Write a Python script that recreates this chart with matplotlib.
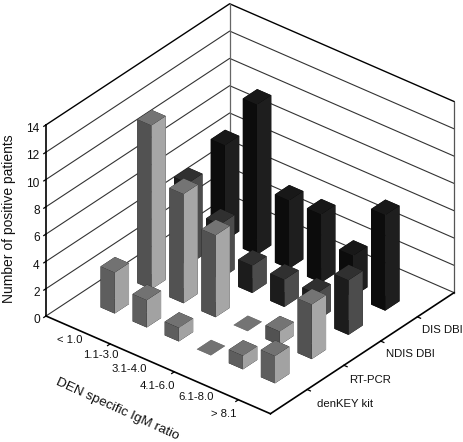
import matplotlib
matplotlib.use('Agg')
import matplotlib.pyplot as plt
from mpl_toolkits.mplot3d import proj3d

plt.rcParams['font.family'] = ['Liberation Sans', 'DejaVu Sans']

ratio_labels = ['< 1.0', '1.1-3.0', '3.1-4.0', '4.1-6.0', '6.1-8.0', '> 8.1']
test_labels = ['denKEY kit', 'RT-PCR', 'NDIS DBI', 'DIS DBI']
z_ticks = [0, 2, 4, 6, 8, 10, 12, 14]

denkey = [3, 2, 1, 0, 1, 2]
rtpcr = [12, 8, 6, 0, 1, 4]
ndis = [6, 4, 2, 2, 2, 4]
dis = [7, 11, 5, 5, 3, 7]
series = [denkey, rtpcr, ndis, dis]

# left, top, right face greys for each row
face_greys = [
    ('#5e5e5e', '#727272', '#a2a2a2'),
    ('#525252', '#747474', '#a6a6a6'),
    ('#1c1c1c', '#303030', '#4c4c4c'),
    ('#0c0c0c', '#181818', '#1e1e1e'),
]

fig = plt.figure(figsize=(4.64, 4.42), dpi=100)
# square 3d axes, sized so the box lands where it does in the figure
ax = fig.add_axes([16.4 / 464, -0.4 / 442, 455 / 464, 455 / 442],
                  projection='3d', proj_type='ortho', computed_zorder=False)
ax.set_xlim(0, 7)
ax.set_ylim(0, 5)
ax.set_zlim(0, 14)
ax.set_box_aspect((290, 292, 227))
ax.view_init(elev=32.4, azim=-50.9)
ax.set_xticks([])
ax.set_yticks([])
ax.set_zticks([])
ax.set_axis_off()


# project a 3d spot to the 2d data coords and put a normal text there,
# with a small nudge in pixels
def label3d(x, y, z, s, fontsize, ha='center', nudge=(0, 0)):
    px, py, _ = proj3d.proj_transform(x, y, z, ax.get_proj())
    ax.annotate(s, xy=(px, py), xycoords='data', xytext=nudge, textcoords='offset pixels',
                ha=ha, va='center', fontsize=fontsize, color='#111111', annotation_clip=False)


# walls
for z in z_ticks:
    col = 'black' if z == 14 else '#333333'
    lw = 1.0 if z == 14 else 0.8
    ax.plot([0, 0, 7], [0, 5, 5], [z, z, z], color=col, lw=lw, zorder=1)
ax.plot([0, 0], [5, 5], [0, 14], color='#666666', lw=0.9, zorder=1)
ax.plot([7, 7], [5, 5], [0, 14], color='#555555', lw=0.9, zorder=1)

# axis lines and ticks
ax.plot([0, 0], [0, 0], [0, 14], color='black', lw=1.2, zorder=2)
ax.plot([0, 7], [0, 0], [0, 0], color='black', lw=1.2, zorder=2)
ax.plot([7, 7], [0, 5], [0, 0], color='black', lw=1.2, zorder=2)
for z in z_ticks:
    ax.plot([0, 0], [0, -0.06], [z, z], color='black', lw=0.9, zorder=2)
    label3d(0, -0.17, z, str(z), 8.6, ha='right')
for x in [2, 4, 6]:
    ax.plot([x, x], [0, -0.07], [0, 0], color='black', lw=0.9, zorder=2)
for y in [1, 2, 3, 4]:
    ax.plot([7, 7.1], [y, y], [0, 0], color='black', lw=0.9, zorder=2)

ratio_nudge = [(6, -1), (5, -2), (1, -2), (-3, -5), (4, -2), (-1, -5)]
test_nudge = [(3, -1), (-1, -1), (-1, 1), (-2, 1)]
for i, lab in enumerate(ratio_labels):
    label3d(i + 1, -0.38, 0, lab, 8.2, nudge=ratio_nudge[i])
for j, lab in enumerate(test_labels):
    label3d(7.2, j + 1, -0.8, lab, 8.2, ha='left', nudge=test_nudge[j])

# bars, back row first so the front ones cover them
order = 10
dx = 0.44
dy = 0.39
for j in range(3, -1, -1):
    left, top, right = face_greys[j]
    # -z, +z, -y, +y, -x, +x
    faces = ['#000000', top, left, '#000000', '#000000', right]
    for i in range(6):
        h = series[j][i]
        if h == 0:
            faces_i = [top] * 6
        else:
            faces_i = faces
        ax.bar3d(i + 1 - dx / 2, j + 1 - dy / 2, 0, dx, dy, h, color=faces_i,
                 shade=False, edgecolor='none', zorder=order)
        order += 1

fig.text(9.5 / 464, 1 - 219 / 442, 'Number of positive patients', rotation=90,
         ha='center', va='center', fontsize=10, color='#111111')
fig.text(117 / 464, 1 - 409 / 442, 'DEN specific IgM ratio', rotation=-24.5,
         ha='center', va='center', rotation_mode='anchor', fontsize=9.7, color='#111111')

fig.savefig('out.png', dpi=100)
